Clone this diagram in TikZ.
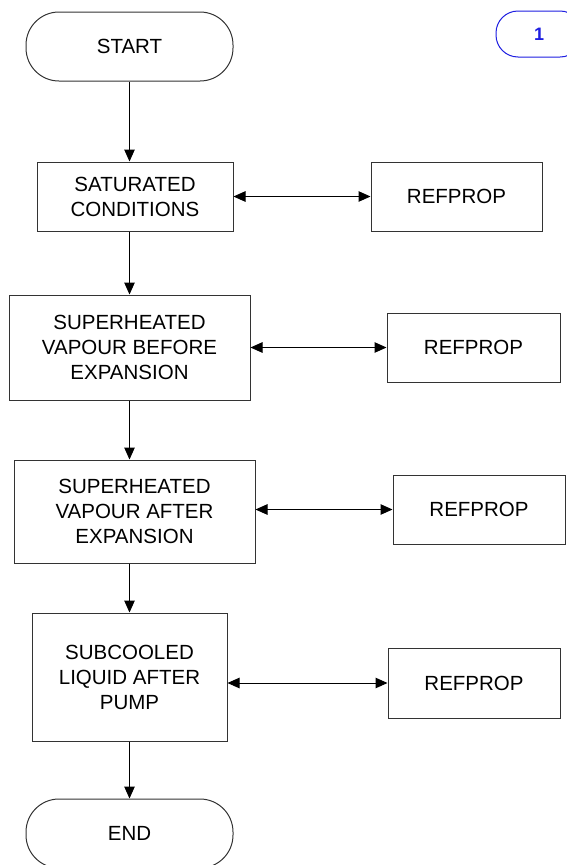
\documentclass[tikz,border=0pt]{standalone}
\usepackage{fontspec}
\setmainfont{Liberation Sans}
\usetikzlibrary{arrows.meta}
\definecolor{pgblue}{RGB}{30,30,225}
\begin{document}
\begin{tikzpicture}[x=1pt,y=-1pt,
  box/.style={draw=black!80, line width=1pt, fill=white, align=center, inner sep=0pt,
    font=\fontsize{20.5}{25}\selectfont},
  term/.style={box, rounded corners=33pt},
  tip/.tip={Triangle[length=12pt,width=10.5pt]},
  arr/.style={-tip, line width=1pt, draw=black},
  biarr/.style={tip-tip, line width=1pt, draw=black}]
\useasboundingbox (0,0) rectangle (567,865);
\clip (0,0) rectangle (567,865);
\fill[white] (0,0) rectangle (567,865);

\node[term, minimum width=207pt, minimum height=69pt] (start) at (129.5,46.5) {START};
\node[box, minimum width=196pt, minimum height=69pt] (sat) at (135,196.5) {SATURATED\\CONDITIONS};
\node[box, minimum width=171pt, minimum height=69pt] (ref1) at (456.5,196.5) {REFPROP};
\node[box, minimum width=241pt, minimum height=105pt] (bef) at (129.5,347.5) {SUPERHEATED\\VAPOUR BEFORE\\EXPANSION};
\node[box, minimum width=173pt, minimum height=69pt] (ref2) at (473.5,347.5) {REFPROP};
\node[box, minimum width=241pt, minimum height=103pt] (aft) at (134.5,511.5) {SUPERHEATED\\VAPOUR AFTER\\EXPANSION};
\node[box, minimum width=172pt, minimum height=69pt] (ref3) at (479,509.5) {REFPROP};
\node[box, minimum width=195pt, minimum height=128pt] (sub) at (129.5,677) {SUBCOOLED\\LIQUID AFTER\\PUMP};
\node[box, minimum width=172pt, minimum height=70pt] (ref4) at (474,683) {REFPROP};
\node[term, minimum width=207pt, minimum height=69pt] (end) at (129.5,833.5) {END};
\node[draw=pgblue, line width=1pt, rounded corners=22pt, minimum width=86pt, minimum height=46pt,
  text=pgblue, font=\bfseries\fontsize{18}{20}\selectfont] (pg) at (539,34) {1};

\draw[arr] (start.south) -- (start.south |- sat.north);
\draw[arr] (sat.south -| start.south) -- (bef.north);
\draw[arr] (bef.south) -- (bef.south |- aft.north);
\draw[arr] (aft.south -| bef.south) -- (sub.north);
\draw[arr] (sub.south) -- (end.north);

\draw[biarr] (sat.east) -- (ref1.west);
\draw[biarr] (bef.east) -- (ref2.west);
\draw[biarr] (aft.east |- ref3.west) -- (ref3.west);
\draw[biarr] (sub.east |- ref4.west) -- (ref4.west);
\end{tikzpicture}
\end{document}
